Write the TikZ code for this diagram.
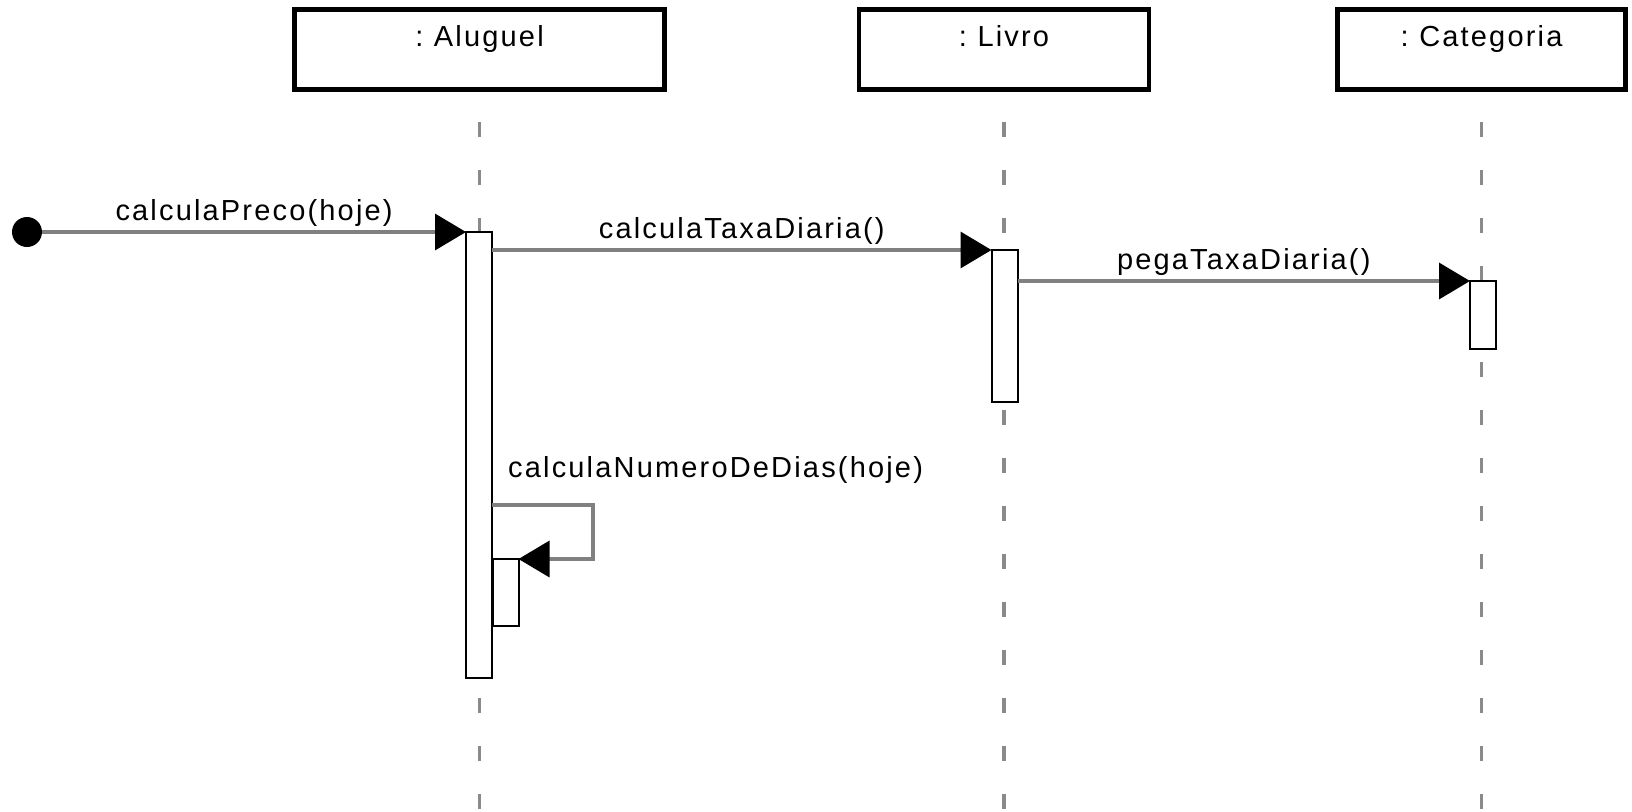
\documentclass[tikz,border=0pt]{standalone}
\usepackage{fontspec}
\setmainfont{Liberation Sans}[LetterSpace=7.5]
\usetikzlibrary{arrows.meta}
\definecolor{msggray}{HTML}{808080}
\definecolor{linegray}{HTML}{8A8A8A}
\tikzset{
	object/.style={draw=black,line width=4.5pt,inner sep=0pt,outer sep=0pt,text height=36.5pt,text depth=43.5pt,font=\fontsize{29}{35}\selectfont},
	lifeline/.style={draw=linegray,line width=3.5pt,dash pattern=on 15pt off 33pt},
	activation/.style={draw=black,fill=white,line width=2pt,minimum width=26pt,inner sep=0pt,outer sep=0pt},
	message/.style={draw=msggray,line width=3.5pt,-{Triangle[length=31pt,width=36pt,color=black]}},
	msglabel/.style={anchor=base,inner sep=0pt,yshift=12pt,font=\fontsize{29}{35}\selectfont}
}

\begin{document}
\begin{tikzpicture}[x=1pt,y=-1pt]

	\useasboundingbox (0,0) rectangle (1632,811);

	\begin{scope}
		\node[object,minimum width=370pt] (aluguel) at (479.5,49.5) {:\hspace{-3pt} Aluguel};
		\node[object,minimum width=290pt] (livro) at (1004,49.5) {:\hspace{-3pt} Livro};
		\node[object,minimum width=288pt] (categoria) at (1481.5,49.5) {:\hspace{-3pt} Categoria};

		\draw[lifeline] (aluguel.south |- 0,122) -- (aluguel.south |- 0,811);
		\draw[lifeline] (livro.south |- 0,122) -- (livro.south |- 0,811);
		\draw[lifeline] (categoria.south |- 0,122) -- (categoria.south |- 0,811);
	\end{scope}

	\node[activation,minimum height=446pt,anchor=north] (actA) at (479,232) {};
	\node[activation,minimum height=152pt,anchor=north] (actL) at (1004.5,250) {};
	\node[activation,minimum height=68pt,anchor=north] (actC) at (1483,281) {};
	\node[activation,minimum height=67pt,anchor=north] (actN) at (505.5,559) {};

	\node[circle,fill=black,minimum size=30pt,inner sep=0pt] (start) at (27,232) {};

	\draw[message] (start) -- (actA.north west) node[msglabel,midway] (m1) {calculaPreco(hoje)};
	\draw[message] (actA.east |- actL.north) -- (actL.north west) node[msglabel,midway] (m2) {calculaTaxaDiaria()};
	\draw[message] (actL.east |- actC.north) -- (actC.north west) node[msglabel,midway] (m3) {pegaTaxaDiaria()};
	\draw[message] (actA.east |- 0,505) -- ++(101,0) |- (actN.north east);
	\node[msglabel,anchor=base west] (m4) at (508,489) {calculaNumeroDeDias(hoje)};

\end{tikzpicture}
\end{document}
